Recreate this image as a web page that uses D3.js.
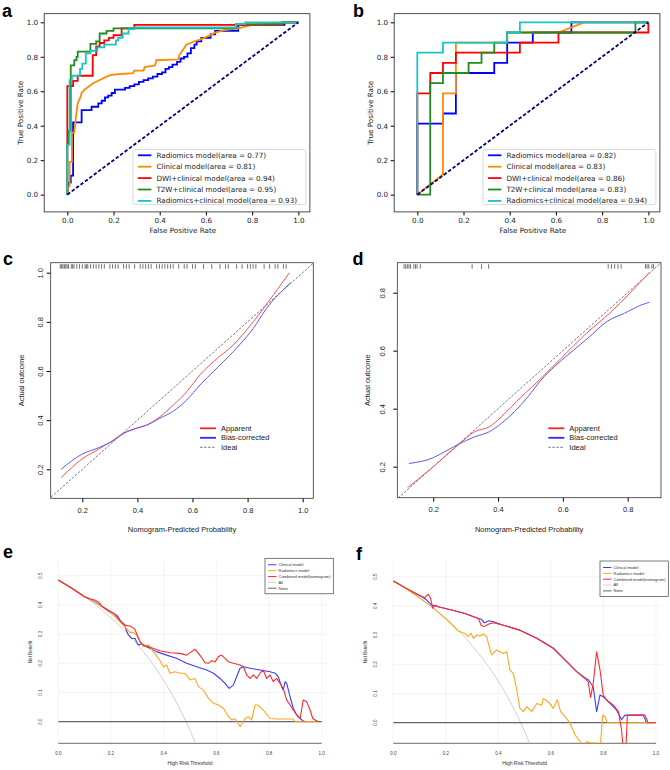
<!DOCTYPE html>
<html>
<head>
<meta charset="utf-8">
<script src="https://cdn.jsdelivr.net/npm/d3@7"></script>
<style>
  body { margin: 0; background: #fff; }
  svg { display: block; }
</style>
</head>
<body>
<svg id="fig" width="670" height="770"></svg>
<script>
// ---------- ROC (panels a, b) ----------
const rocTicks = [0, 0.2, 0.4, 0.6, 0.8, 1.0];
const rocNamesA = ["Radiomics model(area = 0.77)", "Clinical model(area = 0.81)", "DWI+clinical model(area = 0.94)",
  "T2W+clinical model(area = 0.95)", "Radiomics+clinical model(area = 0.93)"];
const rocNamesB = ["Radiomics model(area = 0.82)", "Clinical model(area = 0.83)", "DWI+clinical model(area = 0.86)",
  "T2W+clinical model(area = 0.83)", "Radiomics+clinical model(area = 0.94)"];

const rocA_radiomics = [[0,0],[0.005,0.07],[0.015,0.07],[0.015,0.11],[0.025,0.11],[0.025,0.42],[0.062,0.42],[0.062,0.49],
  [0.105,0.49],[0.105,0.51],[0.134,0.51],[0.134,0.53],[0.149,0.53],[0.149,0.545],[0.163,0.545],[0.163,0.565],[0.177,0.565],
  [0.177,0.575],[0.192,0.575],[0.192,0.59],[0.206,0.59],[0.206,0.61],[0.25,0.61],[0.25,0.62],[0.27,0.62],[0.27,0.63],
  [0.29,0.63],[0.29,0.64],[0.31,0.64],[0.31,0.655],[0.33,0.655],[0.33,0.665],[0.35,0.665],[0.35,0.675],[0.37,0.675],
  [0.37,0.685],[0.39,0.685],[0.39,0.70],[0.41,0.70],[0.41,0.71],[0.425,0.71],[0.425,0.73],[0.44,0.73],[0.44,0.74],
  [0.455,0.74],[0.455,0.755],[0.475,0.755],[0.475,0.77],[0.49,0.77],[0.49,0.79],[0.505,0.79],[0.505,0.80],[0.52,0.80],
  [0.52,0.82],[0.535,0.82],[0.535,0.85],[0.55,0.85],[0.55,0.87],[0.56,0.87],[0.56,0.89],[0.58,0.89],[0.58,0.91],
  [0.62,0.91],[0.62,0.93],[0.64,0.93],[0.64,0.95],[0.74,0.95],[0.74,0.985],[0.94,0.985],[0.94,1.0],[1,1]];
const rocA_clinical = [[0,0],[0.005,0.05],[0.01,0.05],[0.01,0.19],[0.02,0.19],[0.02,0.36],[0.03,0.36],[0.035,0.42],
  [0.04,0.48],[0.045,0.53],[0.055,0.56],[0.062,0.59],[0.075,0.61],[0.09,0.625],[0.11,0.645],[0.14,0.665],[0.17,0.685],
  [0.19,0.695],[0.23,0.70],[0.285,0.705],[0.29,0.72],[0.33,0.72],[0.335,0.74],[0.38,0.75],[0.385,0.78],[0.48,0.785],
  [0.485,0.81],[0.50,0.84],[0.515,0.87],[0.55,0.89],[0.575,0.90],[0.61,0.92],[0.64,0.94],[0.68,0.955],[0.74,0.965],
  [0.77,0.975],[0.80,0.985],[0.93,0.995],[1,1]];
const rocA_dwi = [[0,0],[0,0.63],[0.025,0.63],[0.025,0.66],[0.045,0.66],[0.045,0.69],[0.11,0.69],[0.11,0.81],
  [0.125,0.81],[0.125,0.86],[0.14,0.86],[0.14,0.88],[0.16,0.88],[0.16,0.895],[0.18,0.895],[0.18,0.91],[0.2,0.91],
  [0.2,0.925],[0.235,0.925],[0.235,0.965],[0.29,0.965],[0.29,0.985],[0.93,0.985],[0.93,1.0],[1,1]];
const rocA_t2w = [[0,0],[0,0.29],[0.005,0.29],[0.005,0.37],[0.015,0.37],[0.015,0.75],[0.03,0.75],[0.03,0.78],
  [0.04,0.78],[0.04,0.80],[0.045,0.80],[0.045,0.83],[0.1,0.83],[0.1,0.875],[0.125,0.875],[0.125,0.89],[0.14,0.89],
  [0.14,0.935],[0.17,0.935],[0.17,0.95],[0.2,0.95],[0.2,0.965],[0.73,0.965],[0.73,0.99],[0.93,0.99],[0.93,1.0],[1,1]];
const rocA_combined = [[0,0],[0,0.29],[0.01,0.29],[0.01,0.665],[0.02,0.665],[0.02,0.69],[0.055,0.69],[0.055,0.73],
  [0.065,0.73],[0.065,0.76],[0.08,0.76],[0.08,0.82],[0.1,0.82],[0.1,0.835],[0.13,0.835],[0.13,0.855],[0.16,0.855],
  [0.16,0.87],[0.21,0.87],[0.21,0.895],[0.22,0.895],[0.22,0.91],[0.24,0.91],[0.24,0.935],[0.265,0.935],[0.265,0.96],
  [0.29,0.96],[0.29,0.97],[0.73,0.97],[0.73,0.99],[0.77,0.99],[0.77,1.0],[1,1]];

const rocB_radiomics = [[0,0],[0,0.412],[0.111,0.412],[0.111,0.471],[0.167,0.471],[0.167,0.706],[0.333,0.706],
  [0.333,0.765],[0.389,0.765],[0.389,0.882],[0.5,0.882],[0.5,0.941],[0.667,0.941],[0.667,1],[1,1]];
const rocB_clinical = [[0,0],[0.111,0.118],[0.111,0.588],[0.167,0.588],[0.167,0.882],[0.389,0.882],[0.389,0.941],
  [0.611,0.941],[0.722,1],[1,1]];
const rocB_dwi = [[0,0],[0,0.588],[0.056,0.588],[0.056,0.706],[0.111,0.706],[0.111,0.765],[0.167,0.765],[0.167,0.824],
  [0.444,0.824],[0.444,0.882],[0.611,0.882],[0.611,0.941],[1,0.941],[1,1]];
const rocB_t2w = [[0,0],[0.056,0],[0.056,0.647],[0.111,0.647],[0.111,0.706],[0.222,0.706],[0.222,0.765],[0.278,0.765],
  [0.278,0.824],[0.333,0.824],[0.333,0.882],[0.389,0.882],[0.389,0.941],[0.944,0.941],[0.944,1],[1,1]];
const rocB_combined = [[0,0],[0,0.824],[0.111,0.824],[0.111,0.882],[0.389,0.882],[0.389,0.941],[0.444,0.941],
  [0.444,1],[1,1]];
const rocChance = [[0,0],[1,1]];

// ---------- calibration (panels c, d) ----------
const calNames = ["Apparent", "Bias-corrected", "Ideal"];
const calTicksC = [0.2, 0.4, 0.6, 0.8, 1.0];
const calTicksD = [0.2, 0.4, 0.6, 0.8];
const calIdeal = [[0, 0], [1.1, 1.1]];
const calC_apparent = [[0.123,0.166],[0.198,0.241],[0.264,0.285],[0.313,0.319],[0.349,0.347],[0.397,0.367],[0.434,0.380],
  [0.482,0.414],[0.531,0.462],[0.579,0.516],[0.627,0.584],[0.676,0.638],[0.748,0.706],[0.821,0.801],[0.894,0.910],[0.952,1.0]];
const calC_bias = [[0.123,0.200],[0.198,0.261],[0.264,0.290],[0.313,0.317],[0.349,0.345],[0.397,0.367],[0.434,0.380],
  [0.482,0.408],[0.531,0.437],[0.579,0.482],[0.627,0.543],[0.676,0.598],[0.748,0.679],[0.821,0.774],[0.869,0.855],[0.954,0.957]];
const calC_rug = [0.12,0.125,0.13,0.135,0.14,0.145,0.15,0.16,0.165,0.17,0.18,0.19,0.20,0.21,0.215,0.22,0.23,0.24,0.25,
  0.26,0.27,0.28,0.30,0.31,0.32,0.33,0.35,0.36,0.37,0.39,0.41,0.42,0.43,0.44,0.45,0.47,0.48,0.49,0.50,0.51,0.52,0.53,
  0.55,0.57,0.58,0.60,0.61,0.64,0.67,0.70,0.72,0.73,0.76,0.78,0.80,0.81,0.82,0.83,0.86,0.88,0.90,0.91,0.93,0.94];
const calD_apparent = [[0.121,0.128],[0.2,0.2],[0.277,0.275],[0.328,0.321],[0.374,0.338],[0.410,0.372],[0.472,0.441],
  [0.533,0.505],[0.595,0.574],[0.667,0.654],[0.749,0.734],[0.867,0.870]];
const calD_bias = [[0.125,0.211],[0.2,0.231],[0.236,0.252],[0.277,0.277],[0.328,0.303],[0.374,0.321],[0.410,0.349],
  [0.451,0.390],[0.492,0.441],[0.533,0.499],[0.574,0.545],[0.615,0.585],[0.677,0.643],[0.738,0.702],[0.790,0.729],
  [0.841,0.757],[0.867,0.767]];
const calD_rug = [0.11,0.115,0.12,0.125,0.13,0.14,0.145,0.15,0.16,0.32,0.349,0.371,0.74,0.75,0.76,0.77,0.78,
  0.855,0.86,0.865,0.875,0.88];

// ---------- decision curves (panels e, f) ----------
const dcaNames = ["Clinical model", "Radiomics model", "Combined model(nomogram)", "All", "None"];
const dcaTicksX = [0, 0.2, 0.4, 0.6, 0.8, 1.0];
const dcaTicksY = [0, 0.1, 0.2, 0.3, 0.4, 0.5];
const dcaAll = [[0,0.485],[0.05,0.458],[0.1,0.428],[0.15,0.394],[0.2,0.356],[0.25,0.313],[0.275,0.290],[0.3,0.264],
  [0.325,0.237],[0.35,0.208],[0.375,0.176],[0.4,0.142],[0.425,0.104],[0.45,0.064],[0.475,0.019],[0.5,-0.03],[0.52,-0.073]];
const dcaNone = [[0,0],[1,0]];
const dcaE_clinical = [[0,0.485],[0.05,0.458],[0.1,0.428],[0.12,0.419],[0.158,0.40],[0.19,0.382],[0.209,0.371],
  [0.222,0.365],[0.234,0.348],[0.253,0.325],[0.266,0.297],[0.278,0.285],[0.291,0.285],[0.297,0.274],[0.304,0.263],
  [0.316,0.266],[0.335,0.257],[0.373,0.240],[0.411,0.228],[0.449,0.217],[0.487,0.2],[0.525,0.188],[0.563,0.177],
  [0.589,0.166],[0.614,0.148],[0.633,0.131],[0.649,0.114],[0.665,0.126],[0.677,0.154],[0.690,0.183],[0.703,0.188],
  [0.728,0.183],[0.766,0.177],[0.804,0.171],[0.823,0.166],[0.835,0.154],[0.848,0.120],[0.854,0.108],[0.861,0.137],
  [0.867,0.131],[0.880,0.086],[0.892,0.046],[0.905,0.023],[0.918,0.011],[0.930,0.002],[0.94,0]];
const dcaE_radiomics = [[0,0.485],[0.05,0.458],[0.1,0.428],[0.12,0.419],[0.146,0.405],[0.184,0.382],[0.215,0.360],
  [0.234,0.342],[0.253,0.325],[0.272,0.306],[0.285,0.306],[0.297,0.297],[0.304,0.285],[0.323,0.257],[0.342,0.263],
  [0.361,0.240],[0.380,0.217],[0.399,0.188],[0.411,0.194],[0.424,0.166],[0.443,0.171],[0.462,0.166],[0.481,0.166],
  [0.5,0.143],[0.519,0.148],[0.532,0.120],[0.551,0.108],[0.570,0.08],[0.589,0.063],[0.608,0.057],[0.627,0.046],
  [0.646,0.017],[0.658,0.006],[0.671,0.011],[0.690,-0.017],[0.709,0.011],[0.722,0.017],[0.734,0.006],[0.747,0.057],
  [0.759,0.057],[0.778,0.040],[0.804,0.011],[0.829,0.009],[0.892,0.009],[0.899,0],[0.98,0]];
const dcaE_combined = [[0,0.485],[0.05,0.458],[0.1,0.428],[0.12,0.421],[0.14,0.416],[0.155,0.408],[0.17,0.392],
  [0.19,0.38],[0.21,0.372],[0.225,0.356],[0.24,0.342],[0.255,0.33],[0.272,0.328],[0.29,0.318],[0.31,0.274],
  [0.323,0.263],[0.348,0.255],[0.386,0.243],[0.424,0.236],[0.462,0.234],[0.487,0.228],[0.506,0.240],[0.519,0.248],
  [0.532,0.234],[0.544,0.220],[0.557,0.202],[0.570,0.200],[0.582,0.209],[0.595,0.205],[0.608,0.223],[0.620,0.228],
  [0.633,0.217],[0.646,0.205],[0.665,0.200],[0.690,0.194],[0.703,0.188],[0.715,0.160],[0.728,0.148],[0.741,0.160],
  [0.753,0.148],[0.766,0.166],[0.778,0.177],[0.791,0.148],[0.804,0.160],[0.816,0.137],[0.829,0.148],[0.842,0.131],
  [0.854,0.114],[0.867,0.074],[0.880,0.057],[0.892,0.040],[0.905,0.023],[0.918,0.011],[0.930,0.074],[0.943,0.068],
  [0.956,0.040],[0.966,0.011],[0.975,0.006],[0.987,0]];
const dcaF_clinical = [[0,0.485],[0.05,0.46],[0.08,0.445],[0.108,0.432],[0.127,0.420],[0.146,0.403],[0.171,0.397],
  [0.222,0.386],[0.273,0.374],[0.324,0.357],[0.336,0.354],[0.346,0.342],[0.355,0.346],[0.364,0.349],[0.381,0.346],
  [0.419,0.334],[0.482,0.317],[0.546,0.289],[0.609,0.255],[0.660,0.209],[0.698,0.175],[0.736,0.150],[0.742,0.148],
  [0.761,0.123],[0.774,0.038],[0.787,0.095],[0.799,0.089],[0.825,0.066],[0.850,0.043],[0.869,0.011],[0.882,0.026],
  [0.952,0.026],[0.964,0],[0.97,0]];
const dcaF_radiomics = [[0,0.485],[0.05,0.458],[0.1,0.428],[0.15,0.394],[0.2,0.356],[0.25,0.313],[0.273,0.305],
  [0.285,0.295],[0.296,0.306],[0.305,0.289],[0.317,0.300],[0.33,0.297],[0.343,0.304],[0.355,0.295],[0.374,0.232],
  [0.393,0.249],[0.419,0.237],[0.432,0.243],[0.444,0.180],[0.457,0.169],[0.470,0.112],[0.482,0.049],[0.495,0.038],
  [0.508,0.055],[0.527,0.038],[0.546,0.066],[0.565,0.06],[0.571,0.083],[0.590,0.072],[0.609,0.049],[0.624,0.078],
  [0.637,0.038],[0.654,0.021],[0.673,-0.002],[0.692,-0.042],[0.711,-0.065],[0.723,-0.09],[0.735,-0.065],[0.755,-0.07],
  [0.774,-0.07],[0.787,-0.09],[0.797,0.026],[0.806,0.021],[0.815,0],[0.99,0]];
const dcaF_combined = [[0,0.485],[0.05,0.46],[0.08,0.445],[0.108,0.432],[0.12,0.429],[0.133,0.44],[0.142,0.426],
  [0.15,0.392],[0.159,0.403],[0.171,0.397],[0.222,0.386],[0.273,0.374],[0.324,0.357],[0.334,0.334],[0.344,0.329],
  [0.355,0.334],[0.368,0.340],[0.381,0.342],[0.419,0.334],[0.482,0.317],[0.546,0.289],[0.609,0.255],[0.660,0.209],
  [0.698,0.175],[0.736,0.146],[0.742,0.140],[0.751,0.087],[0.761,0.135],[0.774,0.243],[0.787,0.180],[0.799,0.095],
  [0.812,0.078],[0.838,0.06],[0.857,0.038],[0.869,-0.025],[0.876,-0.1],[0.885,-0.1],[0.891,0.026],[0.958,0.026],
  [0.97,0],[0.996,0]];

const svg = d3.select("#fig");
const fmt = d3.format(".1f");

// ROC curves, matplotlib look
const rocColors = ["#0000ff", "#ff8c00", "#ff0000", "#228b22", "#19c4c4"];
const rocTop = 13.7, rocBottom = 211.9;

function drawRoc(left, right, curves, names) {
  const x = d3.scaleLinear().domain([-0.1, 1.05]).range([left, right]);
  const y = d3.scaleLinear().domain([-0.1, 1.05]).range([rocBottom, rocTop]);
  const g = svg.append("g");
  const font = "DejaVu Sans, sans-serif";

  g.append("g")
    .attr("transform", `translate(0,${rocBottom})`)
    .call(d3.axisBottom(x).tickValues(rocTicks).tickFormat(fmt).tickSize(3.5).tickPadding(2.5))
    .call(s => s.select(".domain").remove())
    .attr("font-size", 7.2).attr("font-family", font);
  g.append("g")
    .attr("transform", `translate(${left},0)`)
    .call(d3.axisLeft(y).tickValues(rocTicks).tickFormat(fmt).tickSize(3.5).tickPadding(2.5))
    .call(s => s.select(".domain").remove())
    .attr("font-size", 7.2).attr("font-family", font);
  g.selectAll(".tick text").attr("fill", "#222");

  g.append("text").attr("x", (x(0) + x(1)) / 2).attr("y", 233)
    .attr("text-anchor", "middle").attr("font-family", font).attr("font-size", 7.2).attr("fill", "#222")
    .text("False Positive Rate");
  g.append("text").attr("transform", `translate(${left - 21},${(rocTop + rocBottom) / 2}) rotate(-90)`)
    .attr("text-anchor", "middle").attr("font-family", font).attr("font-size", 7.2).attr("fill", "#222")
    .text("True Positive Rate");

  const line = d3.line().x(d => x(d[0])).y(d => y(d[1]));
  curves.forEach((c, i) => {
    g.append("path").datum(c).attr("d", line)
      .attr("fill", "none").attr("stroke", rocColors[i]).attr("stroke-width", 1.8);
  });
  g.append("path").datum(rocChance).attr("d", line)
    .attr("fill", "none").attr("stroke", "#000080").attr("stroke-width", 1.8).attr("stroke-dasharray", "3.5,2");

  g.append("rect").attr("x", left).attr("y", rocTop).attr("width", right - left).attr("height", rocBottom - rocTop)
    .attr("fill", "none").attr("stroke", "#222").attr("stroke-width", 0.8);

  // legend
  const lw = 173, lx = right - 4 - lw, ly = 149.5;
  const leg = g.append("g");
  leg.append("rect").attr("x", lx).attr("y", ly).attr("width", lw).attr("height", 55).attr("rx", 2)
    .attr("fill", "#fff").attr("fill-opacity", 0.85).attr("stroke", "#d0d0d0").attr("stroke-width", 0.8);
  names.forEach((n, i) => {
    const yy = ly + 5.8 + i * 11.4;
    leg.append("line").attr("x1", lx + 5).attr("x2", lx + 18.5).attr("y1", yy).attr("y2", yy)
      .attr("stroke", rocColors[i]).attr("stroke-width", 1.8);
    leg.append("text").attr("x", lx + 23.5).attr("y", yy).attr("dy", "0.35em")
      .attr("font-family", font).attr("font-size", 7.2).attr("fill", "#222").text(n);
  });
}

drawRoc(44.2, 309.9, [rocA_radiomics, rocA_clinical, rocA_dwi, rocA_t2w, rocA_combined], rocNamesA);
drawRoc(394.2, 659.9, [rocB_radiomics, rocB_clinical, rocB_dwi, rocB_t2w, rocB_combined], rocNamesB);

// calibration curves, R look
const calFont = "Liberation Sans, Arial, sans-serif";
function drawCal(cfg) {
  const x = d3.scaleLinear().domain(cfg.xDom).range([cfg.left, cfg.right]);
  const y = d3.scaleLinear().domain(cfg.yDom).range([cfg.bottom, cfg.top]);
  const g = svg.append("g");
  const clipId = "clip" + cfg.id;
  g.append("clipPath").attr("id", clipId).append("rect")
    .attr("x", cfg.left).attr("y", cfg.top).attr("width", cfg.right - cfg.left).attr("height", cfg.bottom - cfg.top);

  g.append("g").attr("transform", `translate(0,${cfg.bottom})`)
    .call(d3.axisBottom(x).tickValues(cfg.ticksX).tickFormat(fmt).tickSize(4).tickPadding(5))
    .call(s => s.select(".domain").remove())
    .attr("font-size", 7.5).attr("font-family", calFont);
  const ya = g.append("g").attr("transform", `translate(${cfg.left},0)`)
    .call(d3.axisLeft(y).tickValues(cfg.ticksY).tickFormat(fmt).tickSize(4))
    .call(s => s.select(".domain").remove())
    .attr("font-size", 7.5).attr("font-family", calFont);
  ya.selectAll(".tick text").attr("x", null).attr("dy", null)
    .attr("text-anchor", "middle")
    .attr("transform", `translate(${cfg.labX - cfg.left},0) rotate(-90)`);
  g.selectAll(".tick text").attr("fill", "#222");

  g.append("text").attr("x", (cfg.left + cfg.right) / 2).attr("y", cfg.bottom + 34)
    .attr("text-anchor", "middle").attr("font-family", calFont).attr("font-size", 7.5).attr("fill", "#222")
    .text("Nomogram-Predicted Probability");
  g.append("text").attr("transform", `translate(${cfg.left - 27},${(cfg.top + cfg.bottom) / 2}) rotate(-90)`)
    .attr("text-anchor", "middle").attr("font-family", calFont).attr("font-size", 7.5).attr("fill", "#222")
    .text("Actual outcome");

  const line = d3.line().x(d => x(d[0])).y(d => y(d[1]));
  const smooth = d3.line().x(d => x(d[0])).y(d => y(d[1])).curve(d3.curveMonotoneX);
  const plot = g.append("g").attr("clip-path", `url(#${clipId})`);
  plot.append("path").datum(calIdeal).attr("d", line).attr("fill", "none")
    .attr("stroke", "#555").attr("stroke-width", 0.8).attr("stroke-dasharray", "2.5,1.5");
  plot.append("path").datum(cfg.apparent).attr("d", smooth).attr("fill", "none")
    .attr("stroke", "#ff5050").attr("stroke-width", 1);
  plot.append("path").datum(cfg.bias).attr("d", smooth).attr("fill", "none")
    .attr("stroke", "#5a5aff").attr("stroke-width", 1);
  plot.selectAll(".rug").data(cfg.rug).join("line")
    .attr("x1", d => x(d)).attr("x2", d => x(d))
    .attr("y1", cfg.top + 1.5).attr("y2", cfg.top + 6)
    .attr("stroke", "#111").attr("stroke-width", 0.6);

  g.append("rect").attr("x", cfg.left).attr("y", cfg.top).attr("width", cfg.right - cfg.left)
    .attr("height", cfg.bottom - cfg.top).attr("fill", "none").attr("stroke", "#333").attr("stroke-width", 0.8);

  const legColors = ["#ff2020", "#2a2aff", "#555"];
  calNames.forEach((n, i) => {
    const yy = 428.3 + i * 9.5;
    g.append("line").attr("x1", cfg.legX).attr("x2", cfg.legX + 16).attr("y1", yy).attr("y2", yy)
      .attr("stroke", legColors[i]).attr("stroke-width", i < 2 ? 1.8 : 0.8)
      .attr("stroke-dasharray", i === 2 ? "2.5,1.5" : null);
    g.append("text").attr("x", cfg.legX + 21).attr("y", yy).attr("dy", "0.35em")
      .attr("font-family", calFont).attr("font-size", 7.5).attr("fill", "#222").text(n);
  });
}

drawCal({ id: "c", left: 50.7, right: 313.3, top: 262.7, bottom: 498.3, xDom: [0.0853, 1.0385], yDom: [0.082, 1.0407],
  ticksX: calTicksC, ticksY: calTicksC, labX: 42.7, legX: 200,
  apparent: calC_apparent, bias: calC_bias, rug: calC_rug });
drawCal({ id: "d", left: 397.3, right: 661, top: 262.7, bottom: 497.7, xDom: [0.089, 0.903], yDom: [0.093, 0.9034],
  ticksX: calTicksD, ticksY: calTicksD, labX: 385, legX: 548.3,
  apparent: calD_apparent, bias: calD_bias, rug: calD_rug });

// decision curves
const dcaColors = ["#3b3bff", "#ffa620", "#ff2a2a", "#d0d0d0", "#666"];
function drawDca(cfg) {
  const x = d3.scaleLinear().domain([0, 1]).range([cfg.x0, cfg.x1]);
  const y = d3.scaleLinear().domain([0, 0.5]).range([cfg.y0, cfg.y0 - 146]);
  const top = 558, bottom = 743.3;
  const g = svg.append("g");
  const clipId = "clip" + cfg.id;
  g.append("clipPath").attr("id", clipId).append("rect")
    .attr("x", cfg.x0 - 2).attr("y", top).attr("width", cfg.x1 - cfg.x0 + 12).attr("height", bottom - top);

  g.selectAll(".gx").data(dcaTicksX).join("line")
    .attr("x1", d => x(d)).attr("x2", d => x(d)).attr("y1", top + 2).attr("y2", bottom)
    .attr("stroke", "#ececec").attr("stroke-width", 0.6);
  g.selectAll(".gy").data(dcaTicksY).join("line")
    .attr("x1", x(0)).attr("x2", x(1.02)).attr("y1", d => y(d)).attr("y2", d => y(d))
    .attr("stroke", "#ececec").attr("stroke-width", 0.6);

  g.append("line").attr("x1", x(0)).attr("x2", x(1)).attr("y1", bottom).attr("y2", bottom)
    .attr("stroke", "#888").attr("stroke-width", 1.2);

  g.selectAll(".tx").data(dcaTicksX).join("text")
    .attr("x", d => x(d)).attr("y", 753).attr("dy", "0.35em").attr("text-anchor", "middle")
    .attr("font-family", calFont).attr("font-size", 4.5).attr("fill", "#444").text(fmt);
  g.selectAll(".ty").data(dcaTicksY).join("text")
    .attr("transform", d => `translate(${cfg.labX},${y(d)}) rotate(-90)`)
    .attr("text-anchor", "middle").attr("dy", "0.35em")
    .attr("font-family", calFont).attr("font-size", 4.5).attr("fill", "#444").text(fmt);
  g.append("text").attr("x", (x(0) + x(1)) / 2).attr("y", 763.3).attr("dy", "0.35em").attr("text-anchor", "middle")
    .attr("font-family", calFont).attr("font-size", 5).attr("fill", "#333").text("High Risk Threshold");
  g.append("text").attr("transform", `translate(${cfg.labX - 10},${652}) rotate(-90)`)
    .attr("text-anchor", "middle").attr("dy", "0.35em")
    .attr("font-family", calFont).attr("font-size", 4.5).attr("fill", "#333").text("Net Benefit");

  const line = d3.line().x(d => x(d[0])).y(d => y(d[1]));
  const plot = g.append("g").attr("clip-path", `url(#${clipId})`);
  plot.append("path").datum(dcaAll).attr("d", line.curve(d3.curveMonotoneX)).attr("fill", "none")
    .attr("stroke", dcaColors[3]).attr("stroke-width", 1);
  line.curve(d3.curveLinear);
  plot.append("path").datum(dcaNone).attr("d", line).attr("fill", "none")
    .attr("stroke", dcaColors[4]).attr("stroke-width", 1.2);
  [cfg.clinical, cfg.radiomics, cfg.combined].forEach((c, i) => {
    plot.append("path").datum(c).attr("d", line).attr("fill", "none")
      .attr("stroke", dcaColors[i]).attr("stroke-width", 1.1).attr("stroke-linejoin", "round");
  });

  // legend
  const lg = g.append("g");
  lg.append("rect").attr("x", cfg.legX).attr("y", cfg.legY).attr("width", 68.3).attr("height", 35.5)
    .attr("fill", "#fff").attr("stroke", "#444").attr("stroke-width", 0.7);
  dcaNames.forEach((n, i) => {
    const yy = cfg.legY + 6.5 + i * 5.85;
    lg.append("line").attr("x1", cfg.legX + 3).attr("x2", cfg.legX + 11.5).attr("y1", yy).attr("y2", yy)
      .attr("stroke", dcaColors[i]).attr("stroke-width", 1);
    lg.append("text").attr("x", cfg.legX + 13.5).attr("y", yy).attr("dy", "0.35em")
      .attr("font-family", calFont).attr("font-size", 4).attr("fill", "#333").text(n);
  });
}

drawDca({ id: "e", x0: 58.3, x1: 321.7, y0: 721.7, labX: 40, legX: 265, legY: 558.3,
  clinical: dcaE_clinical, radiomics: dcaE_radiomics, combined: dcaE_combined });
drawDca({ id: "f", x0: 393.3, x1: 656, y0: 722.7, labX: 375, legX: 600, legY: 561,
  clinical: dcaF_clinical, radiomics: dcaF_radiomics, combined: dcaF_combined });

// panel letters
const letters = [["a", 2, 16.5], ["b", 353, 17], ["c", 3, 265], ["d", 352.5, 265], ["e", 3, 558], ["f", 356, 560]];
svg.selectAll(".letter").data(letters).join("text")
  .attr("x", d => d[1]).attr("y", d => d[2])
  .attr("font-family", "Liberation Sans, Arial, sans-serif").attr("font-weight", "bold").attr("font-size", 18)
  .attr("fill", "#000").text(d => d[0]);
</script>
</body>
</html>
